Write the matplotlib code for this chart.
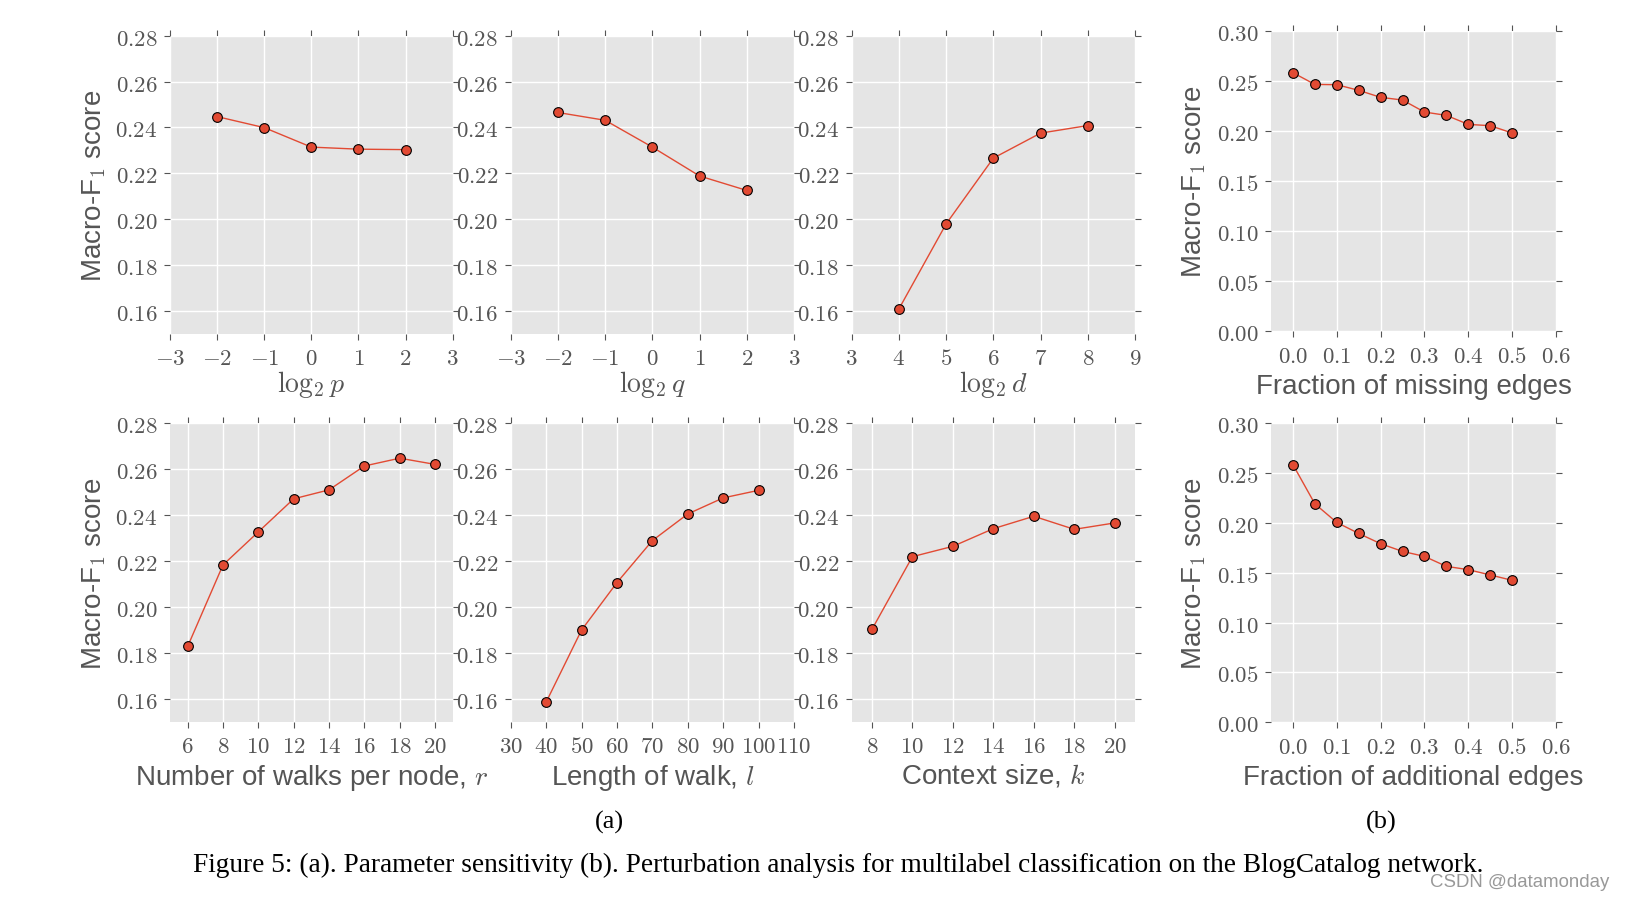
'''Parameter sensitivity and perturbation analysis panels (node2vec, BlogCatalog).'''
import matplotlib
matplotlib.use("Agg")
import matplotlib.pyplot as plt
from matplotlib.ticker import FuncFormatter

plt.rcParams['mathtext.fontset'] = 'cm'
plt.rcParams['font.family'] = ['Liberation Sans', 'DejaVu Sans']

# data
log2_p = [-2, -1, 0, 1, 2]
f1_p = [0.2447, 0.2399, 0.2314, 0.2305, 0.2303]

log2_q = [-2, -1, 0, 1, 2]
f1_q = [0.2465, 0.2431, 0.2314, 0.2188, 0.2125]

log2_d = [4, 5, 6, 7, 8]
f1_d = [0.1608, 0.1979, 0.2266, 0.2375, 0.2408]

walks_r = [6, 8, 10, 12, 14, 16, 18, 20]
f1_r = [0.1828, 0.2183, 0.2327, 0.2471, 0.2510, 0.2614, 0.2648, 0.2621]

walk_len = [40, 50, 60, 70, 80, 90, 100]
f1_l = [0.1585, 0.1899, 0.2106, 0.2289, 0.2405, 0.2475, 0.2508]

context_k = [8, 10, 12, 14, 16, 18, 20]
f1_k = [0.1902, 0.2219, 0.2264, 0.2341, 0.2395, 0.2338, 0.2366]

frac_edges = [0.0, 0.05, 0.1, 0.15, 0.2, 0.25, 0.3, 0.35, 0.4, 0.45, 0.5]
f1_missing = [0.2581, 0.2464, 0.2461, 0.2405, 0.2335, 0.2308, 0.2188, 0.2155, 0.2065, 0.2052, 0.1979]
f1_added = [0.2583, 0.2190, 0.2003, 0.1893, 0.1790, 0.1713, 0.1663, 0.1563, 0.1530, 0.1477, 0.1423]

W, H = 1625, 903
RED = '#E24A33'
GRAY = '#555555'


def rect(l, t, r, b):
    return [l / W, 1 - b / H, (r - l) / W, (b - t) / H]


def style_axes(ax, xlim, ylim, xticks, yticks, xfmt, yfmt):
    ax.set_facecolor('#E5E5E5')
    for s in ax.spines.values():
        s.set_visible(False)
    ax.set_xlim(*xlim)
    ax.set_ylim(*ylim)
    ax.set_xticks(xticks)
    ax.set_yticks(yticks)
    ax.xaxis.set_major_formatter(FuncFormatter(lambda v, pos: '$' + format(v, xfmt) + '$'))
    ax.yaxis.set_major_formatter(FuncFormatter(lambda v, pos: '$' + format(v, yfmt) + '$'))
    ax.grid(True, color='white', linewidth=1.0)
    ax.set_axisbelow(True)
    ax.tick_params(which='both', direction='out', length=4, width=0.8, color=GRAY,
                   labelcolor=GRAY, labelsize=16.5, top=True, right=True, pad=5)


fig = plt.figure(figsize=(W / 100, H / 100), dpi=100)

panels = [
    (rect(170, 36.7, 452.7, 334.7), log2_p, f1_p, (-3, 3), range(-3, 4), 'd', r'$\log_2 p$'),
    (rect(510.7, 36.7, 794, 334.7), log2_q, f1_q, (-3, 3), range(-3, 4), 'd', r'$\log_2 q$'),
    (rect(851.7, 36.7, 1135, 334.7), log2_d, f1_d, (3, 9), range(3, 10), 'd', r'$\log_2 d$'),
    (rect(170, 424.3, 452.7, 722.7), walks_r, f1_r, (5, 21), range(6, 21, 2), 'd',
     r'Number of walks per node, $r$'),
    (rect(510.7, 424.3, 794, 722.7), walk_len, f1_l, (30, 110), range(30, 111, 10), 'd',
     r'Length of walk, $l$'),
    (rect(851.7, 424.3, 1135, 722.7), context_k, f1_k, (7, 21), range(8, 21, 2), 'd',
     r'Context size, $k$'),
]

for i, (pos, xs, ys, xlim, xt, xf, xlabel) in enumerate(panels):
    ax = fig.add_axes(pos)
    style_axes(ax, xlim, (0.15, 0.28), list(xt), [0.16, 0.18, 0.20, 0.22, 0.24, 0.26, 0.28],
               xf, '.2f')
    ax.plot(xs, ys, color=RED, linewidth=1.0, marker='o', markersize=7,
            markerfacecolor=RED, markeredgecolor='black', markeredgewidth=0.8)
    ax.set_xlabel(xlabel, fontsize=20, color=GRAY)
    if xlabel.startswith('$'):
        ax.xaxis.set_label_coords(0.5, -0.115)
    else:
        ax.xaxis.set_label_coords(0.5, -0.135)
    if i % 3 == 0:
        ax.set_ylabel(r'Macro-F$_1$ score', fontsize=20, color=GRAY)
        ax.yaxis.set_label_coords(-0.218, 0.5)

pert = [
    (rect(1271, 31.7, 1556, 332.3), f1_missing, 'Fraction of missing edges'),
    (rect(1271, 424, 1556, 723.3), f1_added, 'Fraction of additional edges'),
]
for pos, ys, xlabel in pert:
    ax = fig.add_axes(pos)
    style_axes(ax, (-0.05, 0.6), (0.0, 0.30), [0.0, 0.1, 0.2, 0.3, 0.4, 0.5, 0.6],
               [0.0, 0.05, 0.10, 0.15, 0.20, 0.25, 0.30], '.1f', '.2f')
    ax.plot(frac_edges, ys, color=RED, linewidth=1.0, marker='o', markersize=7,
            markerfacecolor=RED, markeredgecolor='black', markeredgewidth=0.8)
    ax.set_xlabel(xlabel, fontsize=20, color=GRAY)
    ax.xaxis.set_label_coords(0.5, -0.14)
    ax.set_ylabel(r'Macro-F$_1$ score', fontsize=20, color=GRAY)
    ax.yaxis.set_label_coords(-0.22, 0.5)

fig.text(609 / W, 1 - 822 / H, '(a)', family='Liberation Serif', fontsize=19,
         ha='center', va='center')
fig.text(1381 / W, 1 - 822 / H, '(b)', family='Liberation Serif', fontsize=19,
         ha='center', va='center')
fig.text(838 / W, 1 - 865 / H,
         'Figure 5: (a). Parameter sensitivity (b). Perturbation analysis for multilabel '
         'classification on the BlogCatalog network.',
         family='Liberation Serif', fontsize=19.6, ha='center', va='center')
fig.text(1609 / W, 1 - 883 / H, 'CSDN @datamonday', fontsize=13.4, color='#999999',
         ha='right', va='center')

fig.savefig('out.png', dpi=100)
